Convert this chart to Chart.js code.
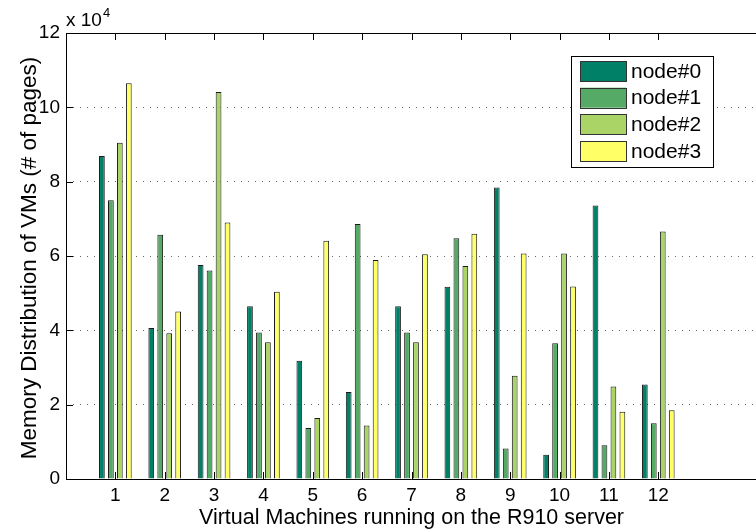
<!DOCTYPE html>
<html>
<head>
<meta charset="utf-8">
<script src="https://cdn.jsdelivr.net/npm/chart.js@4/dist/chart.umd.min.js"></script>
<style>
  html, body { margin: 0; padding: 0; background: #fff; overflow: hidden; width: 756px; height: 531px; }
  canvas { display: block; }
</style>
</head>
<body>
<canvas id="chart" width="762" height="531"></canvas>
<script>
// Virtual machine ids on the x axis
const vmIds = [1, 2, 3, 4, 5, 6, 7, 8, 9, 10, 11, 12];

// Pages of each VM resident on each NUMA node
const seriesNames = ['node#0', 'node#1', 'node#2', 'node#3'];
const node0Pages = [86900, 40600, 57600, 46500, 31800, 23400, 46500, 51700, 78400, 6500, 73600, 25400];
const node1Pages = [75000, 65700, 56100, 39400, 13700, 68600, 39400, 64800, 8200, 36500, 9100, 15000];
const node2Pages = [90500, 39200, 104100, 36800, 16400, 14400, 36800, 57300, 27800, 60700, 24900, 66600];
const node3Pages = [106500, 45100, 69000, 50400, 64100, 58900, 60500, 66000, 60700, 51800, 18100, 18500];

// y tick labels are shown in units of 10^4 pages
const yTickLabels = ['0', '2', '4', '6', '8', '10', '12'];
const yScaleExponent = '4';

const xAxisTitle = 'Virtual Machines running on the R910 server';
const yAxisTitle = 'Memory Distribution of VMs (# of pages)';

// summer colormap, one colour per node
const nodeColors = ['#008066', '#55AA66', '#AAD466', '#FFFF66'];

const FONT = '"Liberation Sans", Arial, Helvetica, sans-serif';
const seriesPages = [node0Pages, node1Pages, node2Pages, node3Pages];

const datasets = seriesPages.map((pages, s) => ({
  label: seriesNames[s],
  data: vmIds.map((id, i) => ({ x: id, y: pages[i] })),
  backgroundColor: nodeColors[s],
  borderColor: '#1a1a1a',
  borderWidth: 1,
  borderSkipped: 'bottom',
  categoryPercentage: 0.727,
  barPercentage: 0.64
}));

// axis frame, inward tick marks, exponent, axis titles and legend
const matlabFrame = {
  id: 'matlabFrame',
  beforeDatasetsDraw(chart) {
    const { ctx, chartArea: a, scales: { x, y } } = chart;
    ctx.save();
    ctx.strokeStyle = '#000';
    ctx.lineWidth = 1;
    ctx.beginPath();
    vmIds.forEach(v => {
      const px = Math.round(x.getPixelForValue(v)) + 0.5;
      ctx.moveTo(px, a.bottom); ctx.lineTo(px, a.bottom - 7);
      ctx.moveTo(px, a.top); ctx.lineTo(px, a.top + 7);
    });
    yTickLabels.forEach(t => {
      const py = Math.round(y.getPixelForValue(Number(t) * 10000)) + 0.5;
      ctx.moveTo(a.left, py); ctx.lineTo(a.left + 7, py);
    });
    ctx.stroke();
    ctx.restore();
  },
  afterDraw(chart) {
    const { ctx, chartArea: a } = chart;
    ctx.save();
    // axis box (left, bottom, top)
    ctx.strokeStyle = '#000';
    ctx.lineWidth = 1;
    ctx.beginPath();
    ctx.moveTo(a.left + 0.5, a.top + 0.5);
    ctx.lineTo(a.left + 0.5, a.bottom + 0.5);
    ctx.lineTo(a.right, a.bottom + 0.5);
    ctx.moveTo(a.left + 0.5, a.top + 0.5);
    ctx.lineTo(a.right, a.top + 0.5);
    ctx.stroke();

    ctx.fillStyle = '#000';
    // exponent label above the y axis
    ctx.textBaseline = 'alphabetic';
    ctx.textAlign = 'left';
    ctx.font = '19px ' + FONT;
    const base = 'x 10';
    ctx.fillText(base, a.left, 26);
    const w = ctx.measureText(base).width;
    ctx.font = '13px ' + FONT;
    ctx.fillText(yScaleExponent, a.left + w + 1, 17);

    // x axis title
    ctx.font = '21.5px ' + FONT;
    ctx.textAlign = 'center';
    ctx.fillText(xAxisTitle, (a.left + a.right) / 2, 524);

    // y axis title
    ctx.save();
    ctx.font = '22.5px ' + FONT;
    ctx.translate(36, 258);
    ctx.rotate(-Math.PI / 2);
    ctx.fillText(yAxisTitle, 0, 0);
    ctx.restore();

    // legend
    const lx = 571, ly = 56, lw = 142, lh = 111;
    ctx.fillStyle = '#fff';
    ctx.fillRect(lx, ly, lw, lh);
    ctx.strokeStyle = '#000';
    ctx.strokeRect(lx + 0.5, ly + 0.5, lw, lh);
    ctx.font = '21px ' + FONT;
    ctx.textAlign = 'left';
    ctx.textBaseline = 'middle';
    chart.data.datasets.forEach((ds, i) => {
      const cy = 71 + i * 26.7;
      ctx.fillStyle = ds.backgroundColor;
      ctx.fillRect(580, cy - 10, 46, 20);
      ctx.strokeStyle = '#333';
      ctx.strokeRect(580.5, Math.round(cy - 10) + 0.5, 46, 20);
      ctx.fillStyle = '#000';
      ctx.fillText(ds.label, 631, cy + 1);
    });
    ctx.restore();
  }
};

new Chart(document.getElementById('chart'), {
  type: 'bar',
  data: { datasets },
  options: {
    responsive: false,
    animation: false,
    devicePixelRatio: 1,
    layout: { padding: { top: 33, left: 0, right: 0, bottom: 0 } },
    plugins: { legend: { display: false }, tooltip: { enabled: false } },
    scales: {
      x: {
        type: 'linear',
        min: 0,
        max: 14,
        offset: false,
        grid: { display: false, drawTicks: false },
        border: { display: false },
        ticks: {
          stepSize: 1,
          autoSkip: false,
          maxRotation: 0,
          padding: 5,
          color: '#000',
          font: { family: FONT, size: 19 },
          callback: v => (vmIds.includes(v) ? String(v) : '')
        },
        afterFit: s => { s.height = 52; }
      },
      y: {
        min: 0,
        max: 120000,
        grid: {
          drawTicks: false,
          lineWidth: 1,
          color: c => (c.tick && (c.tick.value === 0 || c.tick.value === 120000)) ? 'rgba(0,0,0,0)' : 'rgba(0,0,0,0.6)'
        },
        border: { display: false, dash: [1, 6] },
        ticks: {
          stepSize: 20000,
          padding: 6,
          color: '#000',
          font: { family: FONT, size: 19 },
          callback: (v, i) => yTickLabels[i]
        },
        afterFit: s => { s.width = 66; }
      }
    }
  },
  plugins: [matlabFrame]
});
</script>
</body>
</html>
